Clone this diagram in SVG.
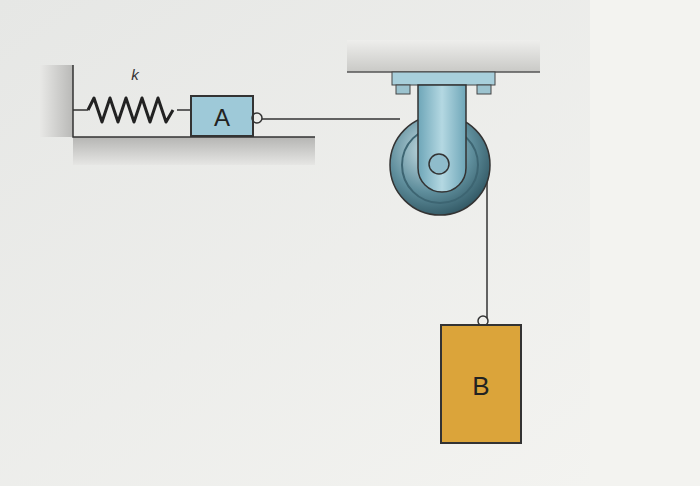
<svg xmlns="http://www.w3.org/2000/svg" width="700" height="486" viewBox="0 0 700 486">
<defs>
<linearGradient id="bg" x1="0" y1="0" x2="1" y2="1"><stop offset="0" stop-color="#e6e7e5"/><stop offset="1" stop-color="#f4f4f1"/></linearGradient>
<linearGradient id="wall" x1="0" y1="0" x2="1" y2="0"><stop offset="0" stop-color="#e8e8e6"/><stop offset="1" stop-color="#b9b9b7"/></linearGradient>
<linearGradient id="floor" x1="0" y1="0" x2="0" y2="1"><stop offset="0" stop-color="#b5b5b3"/><stop offset="1" stop-color="#e6e6e4"/></linearGradient>
<linearGradient id="ceil" x1="0" y1="0" x2="0" y2="1"><stop offset="0" stop-color="#eeeeec"/><stop offset="1" stop-color="#c9c9c6"/></linearGradient>
<radialGradient id="wheel" cx="0.4" cy="0.35" r="0.7"><stop offset="0" stop-color="#cfe4ea"/><stop offset="0.6" stop-color="#5f8e9c"/><stop offset="1" stop-color="#2f5561"/></radialGradient>
<linearGradient id="steel" x1="0" y1="0" x2="1" y2="0"><stop offset="0" stop-color="#6ea6b8"/><stop offset="0.5" stop-color="#b4d8e2"/><stop offset="1" stop-color="#6ea6b8"/></linearGradient>
</defs>
<style>.ln{stroke:#333;stroke-width:1.5;fill:none}.t{font-family:"Liberation Sans",Arial,sans-serif}</style>
<rect width="700" height="486" fill="url(#bg)"/>
<rect x="590" y="0" width="110" height="486" fill="#f3f3f0"/>
<g id="support">
<rect x="40" y="65" width="33" height="72" fill="url(#wall)"/>
<rect x="73" y="137" width="242" height="28" fill="url(#floor)"/>
<path class="ln" d="M73 65V137H315" stroke-width="2"/>
</g>
<g id="spring">
<path class="ln" d="M73 110H88 M177 110H191"/>
<path d="M88 110 l6 -12 l8 24 l8 -24 l8 24 l8 -24 l8 24 l8 -24 l8 24 l8 -24 l8 24 l7 -12" stroke="#222" stroke-width="3" stroke-linejoin="round" fill="none"/>
<text x="135" y="80" class="t" font-size="15" font-style="italic" text-anchor="middle" fill="#333">k</text>
</g>
<g id="blockA">
<rect x="191" y="96" width="62" height="40" fill="#9ec9d8" stroke="#333" stroke-width="2"/>
<circle cx="257" cy="118" r="5" fill="none" stroke="#333" stroke-width="1.5"/>
<text x="222" y="126" class="t" font-size="24" text-anchor="middle" fill="#222">A</text>
</g>
<g id="ceiling">
<rect x="347" y="40" width="193" height="32" fill="url(#ceil)"/>
<line x1="347" y1="72" x2="540" y2="72" stroke="#555" stroke-width="1.5"/>
</g>
<g id="connectors">
<path class="ln" d="M262 119H400"/>
<path class="ln" d="M487 165V318"/>
</g>
<g id="pulley">
<rect x="392" y="72" width="103" height="13" fill="#a8cfdb" stroke="#444" stroke-width="1"/>
<rect x="396" y="85" width="14" height="9" fill="#9cc3cf" stroke="#444" stroke-width="1"/>
<rect x="477" y="85" width="14" height="9" fill="#9cc3cf" stroke="#444" stroke-width="1"/>
<circle cx="440" cy="165" r="50" fill="url(#wheel)" stroke="#333" stroke-width="1.5"/>
<circle cx="440" cy="165" r="38" fill="none" stroke="#3d6572" stroke-width="2"/>
<path d="M418 85H466V168A24 24 0 0 1 418 168Z" fill="url(#steel)" stroke="#333" stroke-width="1.5"/>
<circle cx="439" cy="164" r="10" fill="#8fbccb" stroke="#333" stroke-width="1.5"/>
</g>
<g id="blockB">
<circle cx="483" cy="321" r="5" fill="none" stroke="#333" stroke-width="1.5"/>
<rect x="441" y="325" width="80" height="118" fill="#dba43a" stroke="#333" stroke-width="2"/>
<text x="481" y="395" class="t" font-size="26" text-anchor="middle" fill="#222">B</text>
</g>
</svg>
